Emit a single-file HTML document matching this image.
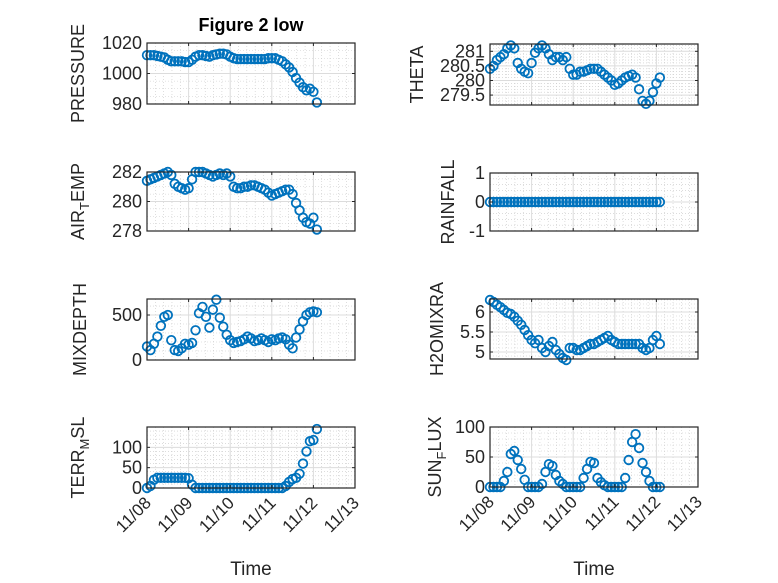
<!DOCTYPE html>
<html><head><meta charset="utf-8"><style>
html,body{margin:0;padding:0;background:#fff;}
svg{display:block;font-family:"Liberation Sans",sans-serif;}
</style></head><body>
<svg id="fig" width="778" height="583" viewBox="0 0 778 583" xmlns="http://www.w3.org/2000/svg">
<rect width="778" height="583" fill="#fff"/>
<text x="251" y="31" text-anchor="middle" font-size="18" font-weight="bold" fill="#000">Figure 2 low</text>
</svg>
<script>
// hours since 11/08 00:00
const hours = [0,2,4,6,8,10,12,14,16,18,20,22,24,26,28,30,32,34,36,38,40,42,44,46,48,50,52,54,56,58,60,62,64,66,68,70,72,74,76,78,80,82,84,86,88,90,92,94,96,98];
const dayTickLabels = ["11/08","11/09","11/10","11/11","11/12","11/13"];
const pressureVals = [1012,1012,1012,1011.5,1011,1010.5,1009,1008,1008,1008,1008,1007.5,1007.5,1009,1011,1012,1012,1011.5,1011,1012,1012.5,1013,1013,1012.5,1011,1010,1009.5,1009.5,1009.5,1009.5,1009.5,1009.5,1009.5,1009.5,1009.5,1010,1010,1010,1009,1008,1006,1004,1001,997,994,991,989,990,988,981];
const airTempVals = [281.4,281.5,281.6,281.7,281.8,281.9,282,281.8,281.2,281,280.9,280.8,280.9,281.5,282,282,282,281.9,281.8,281.7,281.8,281.9,281.8,281.9,281.7,281,280.9,280.9,281,281,281.1,281.1,281,280.9,280.8,280.6,280.4,280.5,280.6,280.7,280.8,280.8,280.5,279.9,279.4,278.9,278.6,278.5,278.9,278.1];
const mixDepthVals = [150,110,180,260,380,480,500,220,110,100,130,180,170,190,330,520,590,480,360,560,670,470,370,280,220,190,200,210,230,260,240,210,220,240,220,200,230,220,240,250,230,170,130,250,340,430,500,530,540,530];
const terrVals = [0,5,20,25,25,25,25,25,25,25,25,25,24,8,0,0,0,0,0,0,0,0,0,0,0,0,0,0,0,0,0,0,0,0,0,0,0,0,0,0,5,15,22,25,35,60,90,115,118,145];
const thetaVals = [280.4,280.5,280.7,280.8,280.9,281.1,281.2,281.1,280.6,280.4,280.3,280.25,280.6,280.95,281.1,281.2,281.1,280.9,280.7,280.8,280.8,280.7,280.8,280.4,280.2,280.2,280.3,280.3,280.35,280.4,280.4,280.4,280.3,280.2,280.1,280,279.85,279.9,280,280.1,280.15,280.2,280.1,279.7,279.3,279.2,279.3,279.6,279.9,280.1];
const rainVals = [0,0,0,0,0,0,0,0,0,0,0,0,0,0,0,0,0,0,0,0,0,0,0,0,0,0,0,0,0,0,0,0,0,0,0,0,0,0,0,0,0,0,0,0,0,0,0,0,0,0];
const h2oVals = [6.3,6.25,6.18,6.12,6.05,5.98,5.95,5.88,5.78,5.68,5.55,5.42,5.3,5.22,5.3,5.1,5.0,5.15,5.25,5.05,4.95,4.85,4.8,5.1,5.1,5.05,5.05,5.1,5.15,5.2,5.2,5.25,5.3,5.35,5.4,5.3,5.25,5.2,5.2,5.2,5.2,5.2,5.2,5.2,5.1,5.05,5.1,5.3,5.4,5.2];
const sunVals = [0,0,0,0,10,25,55,60,45,30,12,0,0,0,0,5,25,38,35,20,10,5,0,0,0,0,0,15,30,42,40,15,8,3,0,0,0,0,0,15,45,75,88,65,40,25,10,0,0,0];

const NS='http://www.w3.org/2000/svg';
const svg=document.getElementById('fig');
const BLUE='#0072BD';
function mk(tag,attrs,parent){const e=document.createElementNS(NS,tag);for(const k in attrs)e.setAttribute(k,attrs[k]);(parent||svg).appendChild(e);return e;}

const panels=[
 {key:'pressure',x0:147,x1:355,y0:43,y1:104,ymin:980,ymax:1020,ticks:[980,1000,1020],labels:['980','1000','1020'],minor:5,vals:pressureVals,label:['PRESSURE'],lx:84,bottom:false},
 {key:'air-temp',x0:147,x1:355,y0:172,y1:231,ymin:278,ymax:282,ticks:[278,280,282],labels:['278','280','282'],minor:0.5,vals:airTempVals,label:['AIR','T','EMP'],lx:84,bottom:false},
 {key:'mixdepth',x0:147,x1:355,y0:299,y1:360,ymin:0,ymax:678,ticks:[0,500],labels:['0','500'],minor:100,vals:mixDepthVals,label:['MIXDEPTH'],lx:86,bottom:false},
 {key:'terr-msl',x0:147,x1:355,y0:427,y1:488,ymin:0,ymax:150,ticks:[0,50,100],labels:['0','50','100'],minor:10,vals:terrVals,label:['TERR','M','SL'],lx:84,bottom:true},
 {key:'theta',x0:490,x1:698,y0:44,y1:105,ymin:279.16,ymax:281.25,ticks:[279.5,280,280.5,281],labels:['279.5','280','280.5','281'],minor:0.1,vals:thetaVals,label:['THETA'],lx:423,bottom:false},
 {key:'rainfall',x0:490,x1:698,y0:173,y1:231,ymin:-1,ymax:1,ticks:[-1,0,1],labels:['-1','0','1'],minor:0.2,vals:rainVals,label:['RAINFALL'],lx:454,bottom:false},
 {key:'h2omixra',x0:490,x1:698,y0:299,y1:359,ymin:4.825,ymax:6.325,ticks:[5,5.5,6],labels:['5','5.5','6'],minor:0.1,vals:h2oVals,label:['H2OMIXRA'],lx:443,bottom:false},
 {key:'sun-flux',x0:490,x1:698,y0:427,y1:487,ymin:0,ymax:100,ticks:[0,50,100],labels:['0','50','100'],minor:10,vals:sunVals,label:['SUN','F','LUX'],lx:441,bottom:true}
];

panels.forEach(p=>{
  const g=mk('g',{});
  
  
  const xs=h=>p.x0+(p.x1-p.x0)*h/120;
  const ys=v=>p.y1-(p.y1-p.y0)*(v-p.ymin)/(p.ymax-p.ymin);
  for(let i=1;i<25;i++){ if(i%5===0)continue; const x=xs(i*4.8);
    mk('line',{x1:x,x2:x,y1:p.y0,y2:p.y1,stroke:'#c8c8c8','stroke-width':0.6,'stroke-dasharray':'1,2'},g);}
  const st=Math.ceil(p.ymin/p.minor-1e-9);
  for(let k=st;k*p.minor<=p.ymax+1e-9;k++){const v=k*p.minor; if(p.ticks.some(t=>Math.abs(t-v)<1e-6))continue;
    const y=ys(v); mk('line',{x1:p.x0,x2:p.x1,y1:y,y2:y,stroke:'#c8c8c8','stroke-width':0.6,'stroke-dasharray':'1,2'},g);}
  for(let d=1;d<5;d++){const x=xs(d*24); mk('line',{x1:x,x2:x,y1:p.y0,y2:p.y1,stroke:'#dcdcdc','stroke-width':1},g);}
  p.ticks.forEach(t=>{const y=ys(t); mk('line',{x1:p.x0,x2:p.x1,y1:y,y2:y,stroke:'#dcdcdc','stroke-width':1},g);});
  const mg=mk('g',{fill:'none',stroke:BLUE,'stroke-width':1.8},g);
  
  
  p.vals.forEach((v,i)=>{
    const c=mk('circle',{cx:xs(hours[i]),cy:ys(v),r:4.3},mg);
    
    
  });
  mk('rect',{x:p.x0,y:p.y0,width:p.x1-p.x0,height:p.y1-p.y0,fill:'none',stroke:'#262626','stroke-width':1.2},g);
  for(let d=0;d<=5;d++){const x=xs(d*24);
    mk('line',{x1:x,x2:x,y1:p.y1,y2:p.y1-3,stroke:'#262626'},g);
    mk('line',{x1:x,x2:x,y1:p.y0,y2:p.y0+3,stroke:'#262626'},g);
    if(p.bottom){const tx=mk('text',{x:x+5,y:p.y1+16,'text-anchor':'end','font-size':17,fill:'#262626',transform:`rotate(-45 ${x+5} ${p.y1+16})`},g);
      tx.textContent=dayTickLabels[d];
      
      }
  }
  p.ticks.forEach((t,i)=>{const y=ys(t);
    mk('line',{x1:p.x0,x2:p.x0+3,y1:y,y2:y,stroke:'#262626'},g);
    mk('line',{x1:p.x1,x2:p.x1-3,y1:y,y2:y,stroke:'#262626'},g);
    const tx=mk('text',{x:p.x0-5,y:y+6,'text-anchor':'end','font-size':18,fill:'#262626'},g);
    tx.textContent=p.labels[i];
    
    
  });
  const cy=(p.y0+p.y1)/2;
  const yl=mk('text',{x:p.lx,y:cy,'text-anchor':'middle','font-size':18,fill:'#262626',transform:`rotate(-90 ${p.lx} ${cy})`},g);
  
  
  if(p.label.length===1){yl.textContent=p.label[0];}
  else{const a=mk('tspan',{},yl);a.textContent=p.label[0];
    const b=mk('tspan',{'font-size':13,dy:5},yl);b.textContent=p.label[1];
    const c=mk('tspan',{dy:-5},yl);c.textContent=p.label[2];}
  if(p.bottom){const tl=mk('text',{x:(p.x0+p.x1)/2,y:575,'text-anchor':'middle','font-size':19,fill:'#262626'},g);
    tl.textContent='Time';
    
    }
});
</script>
</body></html>
